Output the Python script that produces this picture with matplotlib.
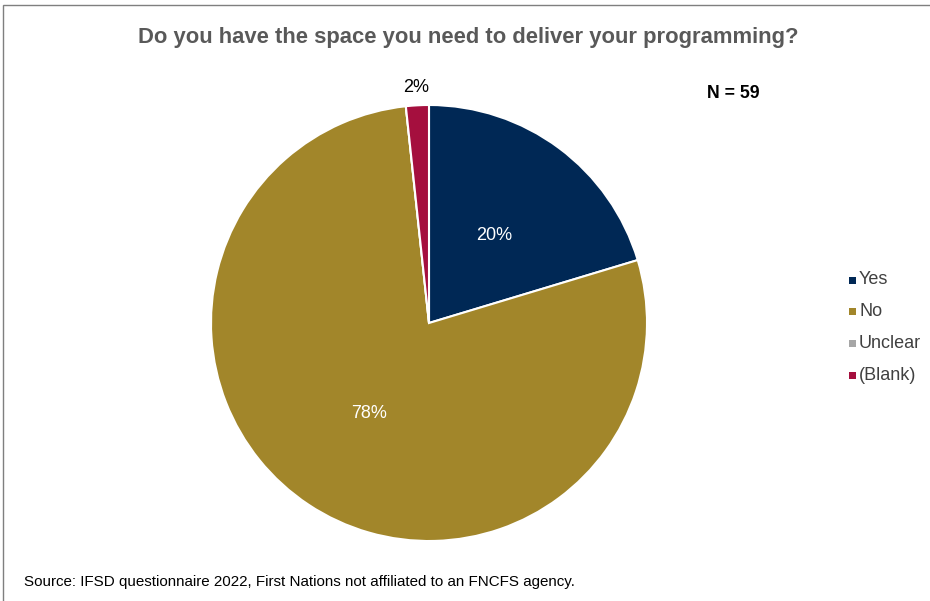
import matplotlib.pyplot as plt
from matplotlib.patches import Rectangle
import numpy as np

plt.rcParams['font.family'] = ['Liberation Sans', 'DejaVu Sans']

categories = ['Yes', 'No', 'Unclear', '(Blank)']
counts = [12, 46, 0, 1]
colors = ['#002855', '#A2862A', '#A6A6A6', '#A50F3E']
title = 'Do you have the space you need to deliver your programming?'
n_label = 'N = 59'
source = 'Source: IFSD questionnaire 2022, First Nations not affiliated to an FNCFS agency.'

W, H = 930, 601
fig = plt.figure(figsize=(W / 100, H / 100), dpi=100)

# outer frame of the chart area
fig.patches.append(Rectangle((3 / W, -0.05), (W - 3) / W + 0.01, 1.05 - 5 / H,
                             transform=fig.transFigure, fill=False,
                             edgecolor='#7f7f7f', linewidth=1.0))

cx, cy, r = 429, 323, 218
ax = fig.add_axes([(cx - r) / W, (H - cy - r) / H, 2 * r / W, 2 * r / H])

total = sum(counts)
wedges, _, autotexts = ax.pie(
    counts, colors=colors, startangle=90, counterclock=False,
    autopct=lambda p: f'{p:.0f}%' if p > 0 else '',
    pctdistance=0.5, radius=1.0,
    wedgeprops=dict(edgecolor='white', linewidth=1.5),
    textprops=dict(color='white', fontsize=13))
ax.set_xlim(-1, 1)
ax.set_ylim(-1, 1)
ax.set_aspect('auto')

# small slices get their label outside the pie
for w, t, c in zip(wedges, autotexts, counts):
    if c > 0 and c / total < 0.05:
        ang = np.deg2rad((w.theta1 + w.theta2) / 2)
        t.set_position((1.08 * np.cos(ang), 1.08 * np.sin(ang)))
        t.set_color('black')

fig.text(468 / W, (H - 38) / H, title, ha='center', va='center',
         fontsize=15.8, fontweight='bold', color='#595959')
fig.text(733 / W, (H - 93) / H, n_label, ha='center', va='center',
         fontsize=12.8, fontweight='bold', color='black')
fig.text(24 / W, (H - 582) / H, source, ha='left', va='center',
         fontsize=10.9, color='black')

# legend
for i, (lab, col) in enumerate(zip(categories, colors)):
    y = (H - (280 + i * 31.7)) / H
    fig.patches.append(Rectangle((849 / W, y - 3.5 / H), 7 / W, 7 / H,
                                 transform=fig.transFigure, facecolor=col,
                                 edgecolor='none'))
    fig.text(859 / W, y, lab, ha='left', va='center', fontsize=13,
             color='#404040')

fig.savefig('out.png', dpi=100)
